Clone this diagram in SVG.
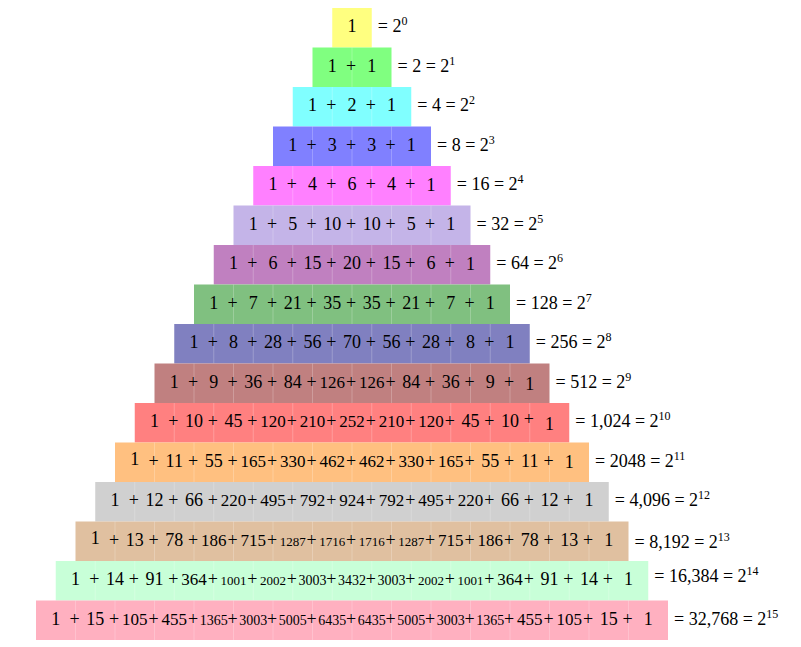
<svg xmlns="http://www.w3.org/2000/svg" width="801" height="647" viewBox="0 0 801 647">
<style>
text{font-family:"Liberation Serif","Times New Roman",serif;font-size:18px;fill:#000}
.num{text-anchor:middle}
.m{font-size:17px}
.s{font-size:14px}
.t{font-size:13px}
.lab{text-anchor:start}
.sup{font-size:12px}
.div{stroke:#fff;stroke-opacity:0.22;stroke-width:1;fill:none}
</style>
<rect width="801" height="647" fill="#fff"/>
<g id="row0" transform="translate(332.25,8)"><rect width="39.5" height="39.5" fill="#ffff80"/><text class="num" y="24"><tspan x="19.75">1</tspan></text><text class="lab" x="45.5" y="24">= 2<tspan class="sup" dy="-7">0</tspan></text></g>
<g id="row1" transform="translate(312.5,47.5)"><rect width="79" height="39.5" fill="#80ff80"/><path class="div" d="M39.5 0V39.5"/><text class="num" y="24"><tspan x="19.75">1</tspan><tspan x="38.5">+</tspan><tspan x="59.25">1</tspan></text><text class="lab" x="85" y="24">= 2 = 2<tspan class="sup" dy="-7">1</tspan></text></g>
<g id="row2" transform="translate(292.75,87)"><rect width="118.5" height="39.5" fill="#80ffff"/><path class="div" d="M39.5 0V39.5M79 0V39.5"/><text class="num" y="24"><tspan x="19.75">1</tspan><tspan x="38.5">+</tspan><tspan x="59.25">2</tspan><tspan x="78">+</tspan><tspan x="98.75">1</tspan></text><text class="lab" x="124.5" y="24">= 4 = 2<tspan class="sup" dy="-7">2</tspan></text></g>
<g id="row3" transform="translate(273,126.5)"><rect width="158" height="39.5" fill="#8080ff"/><path class="div" d="M39.5 0V39.5M79 0V39.5M118.5 0V39.5"/><text class="num" y="24"><tspan x="19.75">1</tspan><tspan x="38.5">+</tspan><tspan x="59.25">3</tspan><tspan x="78">+</tspan><tspan x="98.75">3</tspan><tspan x="117.5">+</tspan><tspan x="138.25">1</tspan></text><text class="lab" x="164" y="24">= 8 = 2<tspan class="sup" dy="-7">3</tspan></text></g>
<g id="row4" transform="translate(253.25,166)"><rect width="197.5" height="39.5" fill="#ff80ff"/><path class="div" d="M39.5 0V39.5M79 0V39.5M118.5 0V39.5M158 0V39.5"/><text class="num" y="24"><tspan x="19.75">1</tspan><tspan x="38.5">+</tspan><tspan x="59.25">4</tspan><tspan x="78">+</tspan><tspan x="98.75">6</tspan><tspan x="117.5">+</tspan><tspan x="138.25">4</tspan><tspan x="157">+</tspan><tspan x="177.75" dy="1">1</tspan></text><text class="lab" x="203.5" y="24">= 16 = 2<tspan class="sup" dy="-7">4</tspan></text></g>
<g id="row5" transform="translate(233.5,205.5)"><rect width="237" height="39.5" fill="#c4b4e8"/><path class="div" d="M39.5 0V39.5M79 0V39.5M118.5 0V39.5M158 0V39.5M197.5 0V39.5"/><text class="num" y="24"><tspan x="19.75">1</tspan><tspan x="38.5">+</tspan><tspan x="59.25">5</tspan><tspan x="78">+</tspan><tspan x="98.75">10</tspan><tspan x="117.5">+</tspan><tspan x="138.25">10</tspan><tspan x="157">+</tspan><tspan x="177.75">5</tspan><tspan x="196.5">+</tspan><tspan x="217.25">1</tspan></text><text class="lab" x="243" y="24">= 32 = 2<tspan class="sup" dy="-7">5</tspan></text></g>
<g id="row6" transform="translate(213.75,245)"><rect width="276.5" height="39.5" fill="#c080c0"/><path class="div" d="M39.5 0V39.5M79 0V39.5M118.5 0V39.5M158 0V39.5M197.5 0V39.5M237 0V39.5"/><text class="num" y="24"><tspan x="19.75">1</tspan><tspan x="38.5">+</tspan><tspan x="59.25">6</tspan><tspan x="78">+</tspan><tspan x="98.75">15</tspan><tspan x="117.5">+</tspan><tspan x="138.25">20</tspan><tspan x="157">+</tspan><tspan x="177.75">15</tspan><tspan x="196.5">+</tspan><tspan x="217.25">6</tspan><tspan x="236">+</tspan><tspan x="256.75" dy="1">1</tspan></text><text class="lab" x="282.5" y="24">= 64 = 2<tspan class="sup" dy="-7">6</tspan></text></g>
<g id="row7" transform="translate(194,284.5)"><rect width="316" height="39.5" fill="#80c080"/><path class="div" d="M39.5 0V39.5M79 0V39.5M118.5 0V39.5M158 0V39.5M197.5 0V39.5M237 0V39.5M276.5 0V39.5"/><text class="num" y="24"><tspan x="19.75">1</tspan><tspan x="38.5">+</tspan><tspan x="59.25">7</tspan><tspan x="78">+</tspan><tspan x="98.75">21</tspan><tspan x="117.5">+</tspan><tspan x="138.25">35</tspan><tspan x="157">+</tspan><tspan x="177.75">35</tspan><tspan x="196.5">+</tspan><tspan x="217.25">21</tspan><tspan x="236">+</tspan><tspan x="256.75">7</tspan><tspan x="275.5">+</tspan><tspan x="296.25">1</tspan></text><text class="lab" x="322" y="24">= 128 = 2<tspan class="sup" dy="-7">7</tspan></text></g>
<g id="row8" transform="translate(174.25,324)"><rect width="355.5" height="39.5" fill="#8080c0"/><path class="div" d="M39.5 0V39.5M79 0V39.5M118.5 0V39.5M158 0V39.5M197.5 0V39.5M237 0V39.5M276.5 0V39.5M316 0V39.5"/><text class="num" y="24"><tspan x="19.75">1</tspan><tspan x="38.5">+</tspan><tspan x="59.25">8</tspan><tspan x="78">+</tspan><tspan x="98.75">28</tspan><tspan x="117.5">+</tspan><tspan x="138.25">56</tspan><tspan x="157">+</tspan><tspan x="177.75">70</tspan><tspan x="196.5">+</tspan><tspan x="217.25">56</tspan><tspan x="236">+</tspan><tspan x="256.75">28</tspan><tspan x="275.5">+</tspan><tspan x="296.25">8</tspan><tspan x="315">+</tspan><tspan x="335.75">1</tspan></text><text class="lab" x="361.5" y="24">= 256 = 2<tspan class="sup" dy="-7">8</tspan></text></g>
<g id="row9" transform="translate(154.5,363.5)"><rect width="395" height="39.5" fill="#c08080"/><path class="div" d="M39.5 0V39.5M79 0V39.5M118.5 0V39.5M158 0V39.5M197.5 0V39.5M237 0V39.5M276.5 0V39.5M316 0V39.5M355.5 0V39.5"/><text class="num" y="24"><tspan x="19.75">1</tspan><tspan x="38.5">+</tspan><tspan x="59.25">9</tspan><tspan x="78">+</tspan><tspan x="98.75">36</tspan><tspan x="117.5">+</tspan><tspan x="138.25">84</tspan><tspan x="157">+</tspan><tspan class="m" x="177.75">126</tspan><tspan x="196.5">+</tspan><tspan class="m" x="217.25">126</tspan><tspan x="236">+</tspan><tspan x="256.75">84</tspan><tspan x="275.5">+</tspan><tspan x="296.25">36</tspan><tspan x="315">+</tspan><tspan x="335.75">9</tspan><tspan x="354.5">+</tspan><tspan x="375.25" dy="2">1</tspan></text><text class="lab" x="401" y="24">= 512 = 2<tspan class="sup" dy="-7">9</tspan></text></g>
<g id="row10" transform="translate(134.75,403)"><rect width="434.5" height="39.5" fill="#ff8080"/><path class="div" d="M39.5 0V39.5M79 0V39.5M118.5 0V39.5M158 0V39.5M197.5 0V39.5M237 0V39.5M276.5 0V39.5M316 0V39.5M355.5 0V39.5M395 0V39.5"/><text class="num" y="24"><tspan x="19.75">1</tspan><tspan x="38.5">+</tspan><tspan x="59.25">10</tspan><tspan x="78">+</tspan><tspan x="98.75">45</tspan><tspan x="117.5">+</tspan><tspan class="m" x="138.25">120</tspan><tspan x="157">+</tspan><tspan class="m" x="177.75">210</tspan><tspan x="196.5">+</tspan><tspan class="m" x="217.25">252</tspan><tspan x="236">+</tspan><tspan class="m" x="256.75">210</tspan><tspan x="275.5">+</tspan><tspan class="m" x="296.25">120</tspan><tspan x="315">+</tspan><tspan x="335.75">45</tspan><tspan x="354.5">+</tspan><tspan x="375.25">10</tspan><tspan x="394" dy="-2">+</tspan><tspan x="414.75" dy="5">1</tspan></text><text class="lab" x="440.5" y="24">= 1,024 = 2<tspan class="sup" dy="-7">10</tspan></text></g>
<g id="row11" transform="translate(115,442.5)"><rect width="474" height="39.5" fill="#ffc080"/><path class="div" d="M39.5 0V39.5M79 0V39.5M118.5 0V39.5M158 0V39.5M197.5 0V39.5M237 0V39.5M276.5 0V39.5M316 0V39.5M355.5 0V39.5M395 0V39.5M434.5 0V39.5"/><text class="num" y="24"><tspan x="19.75" dy="-2">1</tspan><tspan x="38.5" dy="2">+</tspan><tspan x="59.25">11</tspan><tspan x="78">+</tspan><tspan x="98.75">55</tspan><tspan x="117.5">+</tspan><tspan class="m" x="138.25">165</tspan><tspan x="157">+</tspan><tspan class="m" x="177.75">330</tspan><tspan x="196.5">+</tspan><tspan class="m" x="217.25">462</tspan><tspan x="236">+</tspan><tspan class="m" x="256.75">462</tspan><tspan x="275.5">+</tspan><tspan class="m" x="296.25">330</tspan><tspan x="315">+</tspan><tspan class="m" x="335.75">165</tspan><tspan x="354.5">+</tspan><tspan x="375.25">55</tspan><tspan x="394">+</tspan><tspan x="414.75">11</tspan><tspan x="433.5">+</tspan><tspan x="454.25" dy="1">1</tspan></text><text class="lab" x="480" y="24">= 2048 = 2<tspan class="sup" dy="-7">11</tspan></text></g>
<g id="row12" transform="translate(95.25,482)"><rect width="513.5" height="39.5" fill="#d0d0d0"/><path class="div" d="M39.5 0V39.5M79 0V39.5M118.5 0V39.5M158 0V39.5M197.5 0V39.5M237 0V39.5M276.5 0V39.5M316 0V39.5M355.5 0V39.5M395 0V39.5M434.5 0V39.5M474 0V39.5"/><text class="num" y="24"><tspan x="19.75">1</tspan><tspan x="38.5">+</tspan><tspan x="59.25">12</tspan><tspan x="78">+</tspan><tspan x="98.75">66</tspan><tspan x="117.5">+</tspan><tspan class="m" x="138.25">220</tspan><tspan x="157">+</tspan><tspan class="m" x="177.75">495</tspan><tspan x="196.5">+</tspan><tspan class="m" x="217.25">792</tspan><tspan x="236">+</tspan><tspan class="m" x="256.75">924</tspan><tspan x="275.5">+</tspan><tspan class="m" x="296.25">792</tspan><tspan x="315">+</tspan><tspan class="m" x="335.75">495</tspan><tspan x="354.5">+</tspan><tspan class="m" x="375.25">220</tspan><tspan x="394">+</tspan><tspan x="414.75">66</tspan><tspan x="433.5">+</tspan><tspan x="454.25">12</tspan><tspan x="473">+</tspan><tspan x="493.75">1</tspan></text><text class="lab" x="519.5" y="24">= 4,096 = 2<tspan class="sup" dy="-7">12</tspan></text></g>
<g id="row13" transform="translate(75.5,521.5)"><rect width="553" height="39.5" fill="#e0c0a0"/><path class="div" d="M39.5 0V39.5M79 0V39.5M118.5 0V39.5M158 0V39.5M197.5 0V39.5M237 0V39.5M276.5 0V39.5M316 0V39.5M355.5 0V39.5M395 0V39.5M434.5 0V39.5M474 0V39.5M513.5 0V39.5"/><text class="num" y="24"><tspan x="19.75" dy="-2">1</tspan><tspan x="38.5" dy="2">+</tspan><tspan x="59.25">13</tspan><tspan x="78">+</tspan><tspan x="98.75">78</tspan><tspan x="117.5">+</tspan><tspan class="m" x="138.25">186</tspan><tspan x="157">+</tspan><tspan class="m" x="177.75">715</tspan><tspan x="196.5">+</tspan><tspan class="t" x="217.25">1287</tspan><tspan x="236">+</tspan><tspan class="t" x="256.75">1716</tspan><tspan x="275.5">+</tspan><tspan class="t" x="296.25">1716</tspan><tspan x="315">+</tspan><tspan class="t" x="335.75">1287</tspan><tspan x="354.5">+</tspan><tspan class="m" x="375.25">715</tspan><tspan x="394">+</tspan><tspan class="m" x="414.75">186</tspan><tspan x="433.5">+</tspan><tspan x="454.25">78</tspan><tspan x="473">+</tspan><tspan x="493.75">13</tspan><tspan x="512.5">+</tspan><tspan x="533.25">1</tspan></text><text class="lab" x="559" y="26">= 8,192 = 2<tspan class="sup" dy="-7">13</tspan></text></g>
<g id="row14" transform="translate(55.75,561)"><rect width="592.5" height="39.5" fill="#c8ffd8"/><path class="div" d="M39.5 0V39.5M79 0V39.5M118.5 0V39.5M158 0V39.5M197.5 0V39.5M237 0V39.5M276.5 0V39.5M316 0V39.5M355.5 0V39.5M395 0V39.5M434.5 0V39.5M474 0V39.5M513.5 0V39.5M553 0V39.5"/><text class="num" y="24"><tspan x="19.75">1</tspan><tspan x="38.5">+</tspan><tspan x="59.25">14</tspan><tspan x="78">+</tspan><tspan x="98.75">91</tspan><tspan x="117.5">+</tspan><tspan class="m" x="138.25">364</tspan><tspan x="157">+</tspan><tspan class="t" x="177.75">1001</tspan><tspan x="196.5">+</tspan><tspan class="t" x="217.25">2002</tspan><tspan x="236">+</tspan><tspan class="s" x="256.75">3003</tspan><tspan x="275.5">+</tspan><tspan class="s" x="296.25">3432</tspan><tspan x="315">+</tspan><tspan class="s" x="335.75">3003</tspan><tspan x="354.5">+</tspan><tspan class="t" x="375.25">2002</tspan><tspan x="394">+</tspan><tspan class="t" x="414.75">1001</tspan><tspan x="433.5">+</tspan><tspan class="m" x="454.25">364</tspan><tspan x="473">+</tspan><tspan x="493.75">91</tspan><tspan x="512.5">+</tspan><tspan x="533.25">14</tspan><tspan x="552">+</tspan><tspan x="572.75">1</tspan></text><text class="lab" x="598.5" y="21">= 16,384 = 2<tspan class="sup" dy="-7">14</tspan></text></g>
<g id="row15" transform="translate(36,600.5)"><rect width="632" height="39.5" fill="#ffb0c0"/><path class="div" d="M39.5 0V39.5M79 0V39.5M118.5 0V39.5M158 0V39.5M197.5 0V39.5M237 0V39.5M276.5 0V39.5M316 0V39.5M355.5 0V39.5M395 0V39.5M434.5 0V39.5M474 0V39.5M513.5 0V39.5M553 0V39.5M592.5 0V39.5"/><text class="num" y="24"><tspan x="19.75">1</tspan><tspan x="38.5">+</tspan><tspan x="59.25">15</tspan><tspan x="78">+</tspan><tspan class="m" x="98.75">105</tspan><tspan x="117.5">+</tspan><tspan class="m" x="138.25">455</tspan><tspan x="157">+</tspan><tspan class="s" x="177.75">1365</tspan><tspan x="196.5">+</tspan><tspan class="s" x="217.25">3003</tspan><tspan x="236">+</tspan><tspan class="s" x="256.75">5005</tspan><tspan x="275.5">+</tspan><tspan class="s" x="296.25">6435</tspan><tspan x="315">+</tspan><tspan class="s" x="335.75">6435</tspan><tspan x="354.5">+</tspan><tspan class="s" x="375.25">5005</tspan><tspan x="394">+</tspan><tspan class="s" x="414.75">3003</tspan><tspan x="433.5">+</tspan><tspan class="s" x="454.25">1365</tspan><tspan x="473">+</tspan><tspan class="m" x="493.75">455</tspan><tspan x="512.5">+</tspan><tspan class="m" x="533.25">105</tspan><tspan x="552">+</tspan><tspan x="572.75">15</tspan><tspan x="591.5">+</tspan><tspan x="612.25">1</tspan></text><text class="lab" x="638" y="24">= 32,768 = 2<tspan class="sup" dy="-7">15</tspan></text></g>
</svg>
